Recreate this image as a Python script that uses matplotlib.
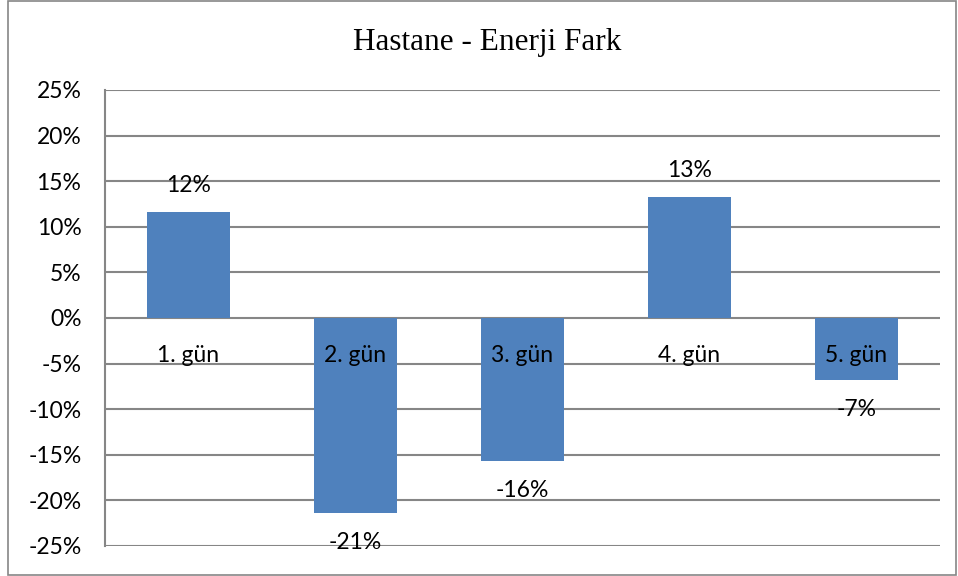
import matplotlib
matplotlib.use('Agg')
import matplotlib.pyplot as plt
from matplotlib.patches import Rectangle

days = ['1. gün', '2. gün', '3. gün', '4. gün', '5. gün']
fark = [11.6, -21.4, -15.7, 13.3, -6.8]
etiket = ['12%', '-21%', '-16%', '13%', '-7%']
yticks = [25, 20, 15, 10, 5, 0, -5, -10, -15, -20, -25]

fig = plt.figure(figsize=(9.58, 5.76), dpi=100)
ax = fig.add_axes([0.1096, 0.0521, 0.8716, 0.7917])

x = range(len(days))
ax.bar(x, fark, width=0.5, color='#4F81BD', zorder=3)

ax.set_xlim(-0.5, len(days) - 0.5)
ax.set_ylim(-25, 25)
ax.set_yticks(yticks)
ax.set_yticklabels([f'{t}%' for t in yticks], fontfamily='Lato', fontsize=16.5)
ax.tick_params(axis='y', length=0, pad=17)
ax.set_xticks([])
ax.grid(axis='y', color='#868686', linewidth=1.5, zorder=0)
for s in ['top', 'right', 'bottom']:
    ax.spines[s].set_visible(False)
ax.spines['left'].set_color('#868686')
ax.spines['left'].set_linewidth(1.5)

for i, v in enumerate(fark):
    off = 19 if v > 0 else -21
    ax.annotate(etiket[i], (i, v), xytext=(0, off), textcoords='offset points',
                ha='center', va='center', fontfamily='Lato', fontsize=16.5, zorder=4)
    ax.annotate(days[i], (i, 0), xytext=(0, -27), textcoords='offset points',
                ha='center', va='center', fontfamily='Lato', fontsize=16.5, zorder=4)

fig.text(0.509, 0.927, 'Hastane - Enerji Fark', ha='center', va='center',
         fontfamily='Liberation Serif', fontsize=22.5)

fig.patches.append(Rectangle((0.008, 0.002), 0.99, 0.996, transform=fig.transFigure,
                             fill=False, edgecolor='#868686', linewidth=1.2))

fig.savefig('out.png', dpi=100)
